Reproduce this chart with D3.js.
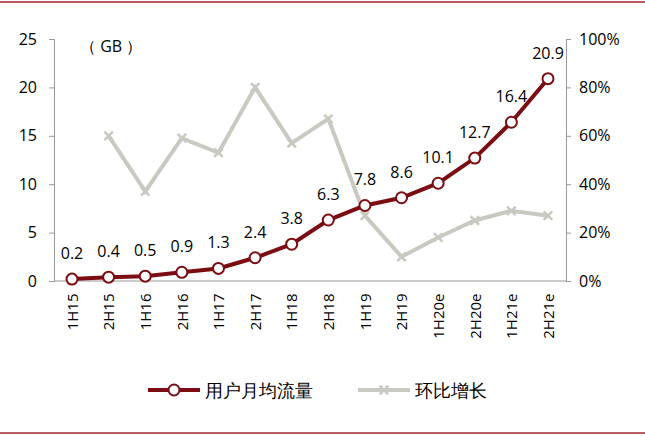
<!DOCTYPE html><html><head><meta charset="utf-8"><script src="https://cdn.jsdelivr.net/npm/d3@7"></script>
<style>body{margin:0;background:#fff}text{font-family:"Open Sans","Liberation Sans",Arial,sans-serif}</style></head><body>
<svg id="c" width="645" height="436"></svg>
<script>
const categories=["1H15","2H15","1H16","2H16","1H17","2H17","1H18","2H18","1H19","2H19","1H20e","2H20e","1H21e","2H21e"];
const traffic=[0.2,0.4,0.5,0.9,1.3,2.4,3.8,6.3,7.8,8.6,10.1,12.7,16.4,20.9];
const growth=[null,60,37,59,53,80,57,67,27,10,18,25,29,27];
const leftTicks=[0,5,10,15,20,25];
const rightTicks=[0,20,40,60,80,100];
const svg=d3.select("#c");
const red="#7b0c12",grey="#c9c9c1";
svg.append("line").attr("x1",0).attr("x2",645).attr("y1",2).attr("y2",2).attr("stroke","#a0262c").attr("stroke-width",1.5);
svg.append("line").attr("x1",0).attr("x2",645).attr("y1",433).attr("y2",433).attr("stroke","#a0262c").attr("stroke-width",1.5);
const x=d3.scalePoint().domain(categories).range([72,548]);
const y=d3.scaleLinear().domain([0,25]).range([281,39]);
const y2=d3.scaleLinear().domain([0,100]).range([281,39]);
const axC="#999";
const gl=svg.append("g").attr("transform","translate(54,0)").call(d3.axisLeft(y).tickValues(leftTicks).tickSize(5).tickPadding(12));
const gr=svg.append("g").attr("transform","translate(566,0)").call(d3.axisRight(y2).tickValues(rightTicks).tickSize(5).tickPadding(8).tickFormat(d=>d+"%"));
const gb=svg.append("g").attr("transform","translate(0,281)").call(d3.axisBottom(x).tickSize(0).tickPadding(8));
gb.select(".domain").attr("d","M54,0H566");
gb.selectAll("text").attr("transform","rotate(-90)").attr("text-anchor","end").attr("dx","-0.3em").attr("dy","0.35em").attr("x",-8).attr("y",0);
[gl,gr,gb].forEach(g=>{g.selectAll(".domain,line").attr("stroke",axC);g.selectAll("text").attr("fill","#000").attr("font-size",16);});
gb.selectAll("text").attr("font-size",15);
svg.append("text").attr("x",80).attr("y",52).attr("font-size",16).text("（ GB ）");
const gd=categories.map((c,i)=>({c,v:growth[i]})).filter(d=>d.v!=null);
svg.append("path").datum(gd).attr("fill","none").attr("stroke",grey).attr("stroke-width",4).attr("d",d3.line().x(d=>x(d.c)).y(d=>y2(d.v)));
svg.selectAll(".gx").data(gd).join("path").attr("transform",d=>`translate(${x(d.c)},${y2(d.v)}) rotate(45)`).attr("d","M-6,0H6M0,-6V6").attr("stroke",grey).attr("stroke-width",2.5);
const td=categories.map((c,i)=>({c,v:traffic[i]}));
svg.append("path").datum(td).attr("fill","none").attr("stroke",red).attr("stroke-width",4).attr("d",d3.line().x(d=>x(d.c)).y(d=>y(d.v)));
svg.selectAll(".rp").data(td).join("circle").attr("cx",d=>x(d.c)).attr("cy",d=>y(d.v)).attr("r",5.5).attr("fill","#fff").attr("stroke",red).attr("stroke-width",2);
svg.selectAll(".lb").data(td).join("text").attr("x",d=>x(d.c)).attr("y",d=>y(d.v)-20).attr("text-anchor","middle").attr("font-size",16).text(d=>d.v);
svg.append("line").attr("x1",148).attr("x2",200).attr("y1",390).attr("y2",390).attr("stroke",red).attr("stroke-width",4);
svg.append("circle").attr("cx",174).attr("cy",390).attr("r",5.5).attr("fill","#fff").attr("stroke",red).attr("stroke-width",2);
svg.append("text").attr("x",205).attr("y",397).attr("font-size",18).attr("font-family","Noto Sans CJK SC").text("用户月均流量");
svg.append("line").attr("x1",358).attr("x2",410).attr("y1",390).attr("y2",390).attr("stroke",grey).attr("stroke-width",4);
svg.append("path").attr("transform","translate(384,390) rotate(45)").attr("d","M-6,0H6M0,-6V6").attr("stroke",grey).attr("stroke-width",2.5);
svg.append("text").attr("x",415).attr("y",397).attr("font-size",18).attr("font-family","Noto Sans CJK SC").text("环比增长");
</script></body></html>
